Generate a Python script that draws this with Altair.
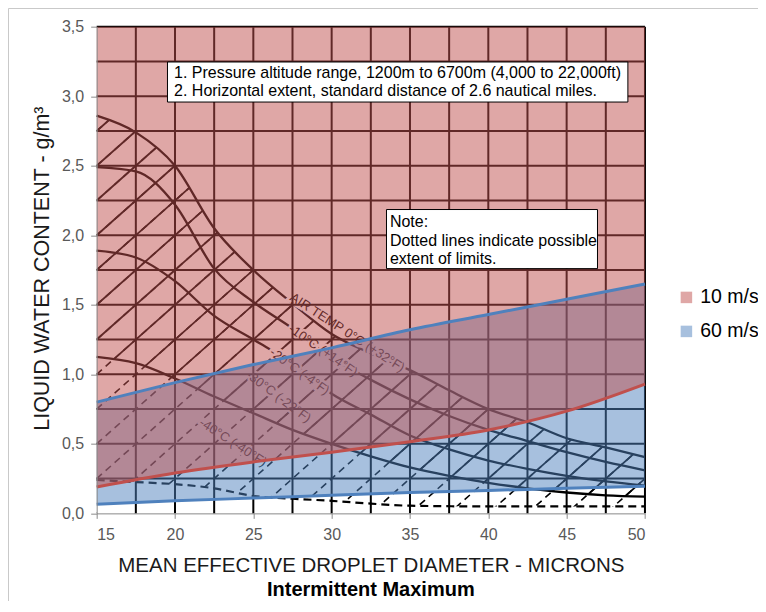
import altair as alt
import pandas as pd

# ---------------- values ----------------
GRID_X = [17.5, 20, 22.5, 25, 27.5, 30, 32.5, 35, 37.5, 40, 42.5, 45, 47.5, 50]
GRID_Y = [0.25, 0.5, 0.75, 1.0, 1.25, 1.5, 1.75, 2.0, 2.25, 2.5, 2.75, 3.0, 3.25, 3.5]

CURVE_X = [15, 17.5, 20, 22.5, 25, 27.5, 30, 32.5, 35, 37.5, 40, 42.5, 45, 47.5, 50]
T_0 = [2.86, 2.74, 2.50, 2.05, 1.75, 1.51, 1.29, 1.15, 1.03, 0.885, 0.75, 0.655, 0.54, 0.475, 0.405]
T_M10 = [2.49, 2.46, 2.22, 1.76, 1.52, 1.33, 1.12, 0.96, 0.82, 0.70, 0.60, 0.52, 0.44, 0.37, 0.31]
T_M20 = [1.89, 1.84, 1.67, 1.42, 1.25, 1.08, 0.86, 0.71, 0.56, 0.46, 0.38, 0.32, 0.27, 0.23, 0.20]
T_M30 = [1.125, 1.08, 0.97, 0.84, 0.72, 0.60, 0.50, 0.41, 0.33, 0.27, 0.22, 0.18, 0.15, 0.13, 0.12]

LIMIT_X = [15, 17.5, 20, 22.5, 25, 27.5, 30, 32.5, 35, 40, 45, 50]
LIMIT_Y = [0.24, 0.225, 0.21, 0.18, 0.125, 0.105, 0.09, 0.07, 0.055, 0.05, 0.05, 0.05]

# hatching lines: value at x=15 and at x=50
HATCH_START = [2.75, 2.5, 2.25, 2.0, 1.75, 1.5, 1.25, 1.0, 0.75, 0.5, 0.25, 0.0, -0.25,
               -0.5, -0.75, -1.0, -1.25, -1.5, -1.75, -2.0, -2.25, -2.5, -2.75, -3.0, -3.25]
HATCH_END = [6.25, 6.0, 5.75, 5.5, 5.25, 5.0, 4.75, 4.5, 4.25, 4.0, 3.75, 3.5, 3.25,
             3.0, 2.75, 2.5, 2.25, 2.0, 1.75, 1.5, 1.25, 1.0, 0.75, 0.5, 0.25]

OV_X = [15, 20, 25, 30, 35, 40, 45, 50]
BLUE_UPPER = [0.80, 0.94, 1.07, 1.19, 1.32, 1.43, 1.54, 1.65]
BLUE_LOWER = [0.065, 0.09, 0.11, 0.13, 0.15, 0.165, 0.18, 0.195]
RED_LOWER = [0.19, 0.29, 0.37, 0.44, 0.515, 0.60, 0.735, 0.93]
SERIES = ["10 m/s", "60 m/s"]
SERIES_COLORS = ["#C0504D", "#4F81BD"]

LABEL_TEXT = ["AIR TEMP 0°C (+32°F)", "-10°C (+14°F)", "-20°C (-4°F)", "-30°C (-22°F)", "-40°C (-40°F)"]
LABEL_X = [31.0, 29.45, 27.95, 26.6, 23.7]
LABEL_Y = [1.30, 1.17, 1.02, 0.84, 0.51]
LABEL_ANGLE = [33, 35, 36, 37, 33]

X_TICKS = [15, 20, 25, 30, 35, 40, 45, 50]
Y_TICKS = [0, 0.5, 1.0, 1.5, 2.0, 2.5, 3.0, 3.5]

BOX1_X = [19.52, 48.91]
BOX1_Y = [2.958, 3.246]
BOX1_LINES = ["1. Pressure altitude range, 1200m to 6700m (4,000 to 22,000ft)",
              "2. Horizontal extent, standard distance of 2.6 nautical miles."]
BOX1_LINE_Y = [3.167, 3.037]
BOX1_TEXT_X = 19.94

NOTE_X = [33.5, 46.97]
NOTE_Y = [1.76, 2.185]
NOTE_LINES = ["Note:", "Dotted lines indicate possible", "extent of limits."]
NOTE_LINE_Y = [2.095, 1.958, 1.829]
NOTE_TEXT_X = 33.72

# ---------------- chart ----------------
W, H = 548.3, 486.7
FONT = "Liberation Sans"
XS = alt.Scale(domain=[15, 50], nice=False, zero=False)
YS = alt.Scale(domain=[0, 3.5], nice=False, zero=False)

x_axis = alt.Axis(values=X_TICKS, format="d", grid=False, zindex=1,
                  domainColor="#8a8a8a", tickColor="#8a8a8a", tickSize=5,
                  labelFont=FONT, labelFontSize=16, labelColor="#595959", labelPadding=8,
                  title="MEAN EFFECTIVE DROPLET DIAMETER - MICRONS", titleFont=FONT,
                  titleFontSize=20.5, titleFontWeight="normal", titleColor="#1a1a1a",
                  titleX=W / 2, titleY=52, titleAlign="center", titleBaseline="middle")
y_axis = alt.Axis(values=Y_TICKS, grid=False, zindex=1,
                  labelExpr="replace(format(datum.value, '.1f'), '.', ',')",
                  domainColor="#8a8a8a", tickColor="#8a8a8a", tickSize=6,
                  labelFont=FONT, labelFontSize=16, labelColor="#595959", labelPadding=7,
                  title="LIQUID WATER CONTENT - g/m³", titleFont=FONT, titleFontSize=21.5,
                  titleFontWeight="normal", titleColor="#1a1a1a", titleAngle=-90,
                  titleX=-54, titleY=241.5, titleAlign="center", titleBaseline="middle")


def X(f):
    return alt.X(f, type="quantitative", scale=XS, axis=x_axis)


def Y(f):
    return alt.Y(f, type="quantitative", scale=YS, axis=y_axis)


hatch = pd.DataFrame({"x0": 15.0, "x1": 50.0, "y0": HATCH_START, "y1": HATCH_END})
curves = pd.DataFrame({"x": CURVE_X, "t0": T_0, "t10": T_M10, "t20": T_M20, "t30": T_M30,
                       "zero": 0.0, "top": 3.5})
limit = pd.DataFrame({"x": LIMIT_X, "y": LIMIT_Y, "zero": 0.0})
curves_long = pd.concat([
    pd.DataFrame({"curve": n, "x": CURVE_X, "y": v})
    for n, v in [("0", T_0), ("-10", T_M10), ("-20", T_M20), ("-30", T_M30)]
])
grid_v = pd.DataFrame({"x": GRID_X, "y0": 0.0, "y1": 3.5})
grid_h = pd.DataFrame({"y": GRID_Y, "x0": 15.0, "x1": 50.0})
labels = pd.DataFrame({"text": LABEL_TEXT, "x": LABEL_X, "y": LABEL_Y, "angle": LABEL_ANGLE})
ov = pd.DataFrame({"x": OV_X, "blo": BLUE_LOWER, "bhi": BLUE_UPPER, "rlo": RED_LOWER, "top": 3.5})

fill_enc = alt.Fill("series:N", scale=alt.Scale(domain=SERIES, range=SERIES_COLORS),
                    legend=alt.Legend(orient="none", legendX=580, legendY=261, title=None,
                                      symbolType="square", symbolSize=132, symbolOpacity=0.5,
                                      symbolStrokeWidth=0, labelFont=FONT, labelFontSize=19.5,
                                      labelColor="#000000", labelOffset=4, rowPadding=13,
                                      padding=0))

layers = []
# solid hatching
layers.append(alt.Chart(hatch).mark_rule(clip=True, color="black", strokeWidth=1.8).encode(
    x=X("x0"), y=Y("y0"), x2="x1:Q", y2="y1:Q"))
# white mask below -30 curve
layers.append(alt.Chart(curves).mark_area(color="white", interpolate="monotone").encode(
    x=X("x"), y=Y("zero"), y2="t30"))
# dashed hatching
layers.append(alt.Chart(hatch).mark_rule(clip=True, color="black", strokeWidth=1.6,
                                         strokeDash=[7, 5]).encode(
    x=X("x0"), y=Y("y0"), x2="x1:Q", y2="y1:Q"))
# white mask below the limit line
layers.append(alt.Chart(limit).mark_area(color="white", interpolate="monotone").encode(
    x=X("x"), y=Y("zero"), y2="y"))
# white mask above 0 C curve
layers.append(alt.Chart(curves).mark_area(color="white", interpolate="monotone").encode(
    x=X("x"), y=Y("t0"), y2="top"))
# temperature curves
layers.append(alt.Chart(curves_long).mark_line(color="black", strokeWidth=2.3,
                                               interpolate="monotone").encode(
    x=X("x"), y=Y("y"), detail="curve:N"))
# limit dashed line
layers.append(alt.Chart(limit).mark_line(color="black", strokeWidth=2.2, strokeDash=[8, 5],
                                         interpolate="monotone").encode(x=X("x"), y=Y("y")))
# label halos
layers.append(alt.Chart(labels).mark_text(font=FONT, fontSize=13, fill="white", stroke="white",
                                          strokeWidth=5).encode(
    x=X("x"), y=Y("y"), text="text:N", angle=alt.Angle("angle:Q", scale=None)))
# grid
layers.append(alt.Chart(grid_v).mark_rule(color="black", strokeWidth=2).encode(
    x=X("x"), y=Y("y0"), y2="y1:Q"))
layers.append(alt.Chart(grid_h).mark_rule(color="black", strokeWidth=2).encode(
    y=Y("y"), x=X("x0"), x2="x1:Q"))
# labels
layers.append(alt.Chart(labels).mark_text(font=FONT, fontSize=13, color="black").encode(
    x=X("x"), y=Y("y"), text="text:N", angle=alt.Angle("angle:Q", scale=None)))
# overlays
layers.append(alt.Chart(ov).transform_calculate(series="'60 m/s'").mark_area(
    opacity=0.5, interpolate="monotone").encode(x=X("x"), y=Y("blo"), y2="bhi", fill=fill_enc))
layers.append(alt.Chart(ov).transform_calculate(series="'10 m/s'").mark_area(
    opacity=0.5, interpolate="monotone").encode(x=X("x"), y=Y("rlo"), y2="top", fill=fill_enc))
layers.append(alt.Chart(ov).mark_line(color="#4F81BD", strokeWidth=3, interpolate="monotone").encode(
    x=X("x"), y=Y("bhi")))
layers.append(alt.Chart(ov).mark_line(color="#4F81BD", strokeWidth=3, interpolate="monotone").encode(
    x=X("x"), y=Y("blo")))
layers.append(alt.Chart(ov).mark_line(color="#C0504D", strokeWidth=3, interpolate="monotone").encode(
    x=X("x"), y=Y("rlo")))
# text boxes
box1 = pd.DataFrame({"x0": [BOX1_X[0]], "x1": [BOX1_X[1]], "y0": [BOX1_Y[0]], "y1": [BOX1_Y[1]]})
note = pd.DataFrame({"x0": [NOTE_X[0]], "x1": [NOTE_X[1]], "y0": [NOTE_Y[0]], "y1": [NOTE_Y[1]]})
for bdf in (box1, note):
    layers.append(alt.Chart(bdf).mark_rect(fill="white", stroke="black", strokeWidth=1).encode(
        x=X("x0"), x2="x1:Q", y=Y("y0"), y2="y1:Q"))
btxt = pd.DataFrame({"t": BOX1_LINES + NOTE_LINES,
                     "x": [BOX1_TEXT_X] * len(BOX1_LINES) + [NOTE_TEXT_X] * len(NOTE_LINES),
                     "y": BOX1_LINE_Y + NOTE_LINE_Y})
layers.append(alt.Chart(btxt).mark_text(font=FONT, fontSize=16, align="left", baseline="middle",
                                        color="black").encode(x=X("x"), y=Y("y"), text="t:N"))
# bold subtitle under the x-axis title
one = pd.DataFrame({"t": ["Intermittent Maximum"]})
layers.append(alt.Chart(one).mark_text(font=FONT, fontSize=20, fontWeight="bold", color="black",
                                       baseline="middle").encode(
    x=alt.value(W / 2), y=alt.value(563.5), text="t:N"))
# outer frame
layers.append(alt.Chart(one).mark_rect(fillOpacity=0, stroke="#c8c8c8", strokeWidth=1).encode(
    x=alt.value(-88.2), x2=alt.value(900), y=alt.value(-18.2), y2=alt.value(900)))

chart = alt.layer(*layers).properties(
    width=W, height=H,
    padding={"left": 88.67, "top": 18.67, "right": 113, "bottom": 88},
    autosize=alt.AutoSizeParams(type="none"),
).configure_view(stroke="transparent")

chart.save("out.html", embed_options={"renderer": "svg", "actions": False})
